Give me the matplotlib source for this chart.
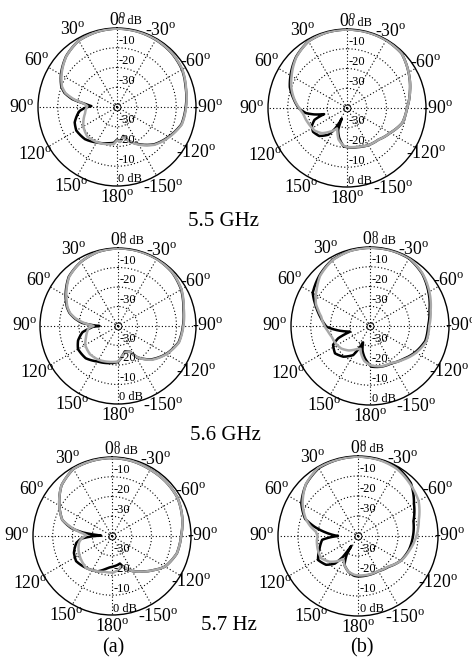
import numpy as np
import matplotlib
matplotlib.use('Agg')
import matplotlib.pyplot as plt
from matplotlib.transforms import offset_copy

plt.rcParams['font.family'] = ['Liberation Serif', 'DejaVu Serif']
plt.rcParams['mathtext.fontset'] = 'custom'
plt.rcParams['mathtext.rm'] = 'Liberation Serif'
plt.rcParams['mathtext.it'] = 'Liberation Serif:italic'

# ---------------- data (angle in degrees, counter-clockwise from top; level in dB) ----------------
# (a) 5.5 GHz
ang1 = [0, 15, 30, 45, 60, 70, 75, 80, 84, 88, 92, 96, 100, 110, 120, 135, 150, 165, 175, 180, 185, 192, 200, 210, 225, 240, 255, 270, 285, 300, 315, 330, 345, 360]
blk1 = [-0.3, -0.6, -1.2, -3.6, -7.2, -10, -12.5, -17, -23.5, -27, -23.5, -21, -19.8, -17.2, -16.2, -17, -19.3, -21, -21.8, -23.5, -22.3, -25, -21.5, -18.3, -13.3, -9.8, -6.2, -5.2, -3.9, -2, -1.1, -0.7, -0.4, -0.3]
gry1 = [-0.3, -0.6, -1.2, -3.7, -7.5, -10.4, -13, -18, -23, -25, -24.5, -24, -23.7, -22, -20.3, -18.8, -19.5, -20.5, -21.2, -23.2, -22.2, -24.5, -21.5, -18, -13, -9.5, -6, -5, -3.8, -1.8, -1, -0.6, -0.4, -0.3]

# (b) 5.5 GHz
ang2 = [0, 15, 30, 45, 60, 70, 80, 90, 97, 101, 105, 110, 117, 125, 135, 145, 150, 154, 158, 165, 175, 180, 195, 210, 225, 240, 255, 270, 285, 300, 315, 330, 345, 360]
blk2 = [-0.3, -0.4, -1.0, -3.5, -7.0, -9.2, -12.5, -15.5, -19, -23, -28, -22.5, -20, -19, -20, -23.5, -28, -34, -28, -24.5, -20.5, -20.2, -19.5, -18.3, -17.4, -14.8, -11, -9.6, -7, -4, -0.9, -0.4, -0.3, -0.3]
gry2 = [-0.3, -0.4, -1.0, -3.7, -7.6, -10, -12.8, -15.8, -17.5, -18, -18.3, -18.8, -19.4, -20, -22, -25.5, -27, -28.5, -27, -23.5, -20.8, -20.3, -19.7, -18.3, -17.4, -14.8, -11, -9.6, -7, -4, -0.9, -0.4, -0.3, -0.3]

# (a) 5.6 GHz
ang3 = [0, 15, 30, 45, 60, 70, 75, 80, 85, 88, 90, 92, 95, 100, 110, 120, 135, 150, 165, 180, 188, 195, 205, 212, 225, 240, 255, 270, 285, 300, 315, 330, 345, 360]
blk3 = [-0.2, -0.6, -2.0, -4.3, -9.0, -12.2, -14.3, -17.5, -21.5, -27, -30.5, -27, -25.3, -21.5, -18.2, -16.3, -16.6, -19, -20.3, -21.6, -24.5, -26.5, -25.5, -21, -15.8, -11.4, -7.8, -6.7, -5.3, -2.6, -0.9, -0.3, -0.2, -0.2]
gry3 = [-0.2, -0.6, -2.0, -4.5, -9.4, -12.5, -14.6, -18, -22.7, -26, -27.5, -26, -24.8, -24, -22.5, -20.6, -19.6, -20, -21, -21.8, -24.5, -26, -25.5, -21, -15.5, -11.2, -7.6, -6.5, -5.1, -2.4, -0.8, -0.3, -0.2, -0.2]

# (b) 5.6 GHz
ang4 = [0, 15, 30, 45, 56, 60, 68, 73, 79, 91, 97, 102, 106, 111, 117, 128, 139, 150, 157, 163, 171, 182, 196, 210, 225, 240, 255, 270, 285, 300, 315, 330, 345, 360]
blk4 = [-0.4, -0.6, -1.5, -3.8, -5.8, -6.5, -10, -12, -14.2, -18, -23, -27, -29.5, -22.8, -19, -17.5, -19.4, -23, -31, -27, -23.5, -19.4, -18.6, -18.2, -16.3, -13.5, -11, -10.6, -8.8, -5.8, -2.6, -0.5, -0.3, -0.4]
gry4 = [-0.4, -0.7, -1.7, -4.2, -7.4, -8.3, -10.5, -12.6, -14.8, -17.2, -18.5, -19.3, -19.9, -20.2, -20.5, -21.5, -23.6, -26.5, -27.5, -25, -22, -20, -18.8, -18.4, -16, -13, -10.4, -10, -8.2, -5.3, -2.4, -0.3, -0.3, -0.4]

# (a) 5.7 GHz
ang5 = [0, 15, 30, 45, 60, 72, 79, 83, 86, 88, 91, 95, 101, 114, 125, 141, 158, 168, 175, 182, 190, 196, 202, 210, 220, 230, 240, 255, 270, 285, 300, 315, 330, 345, 360]
blk5 = [-0.5, -0.6, -0.8, -3.8, -9.2, -13.5, -19, -25, -32, -34.5, -30, -24.3, -21.6, -18.9, -17.8, -19.2, -20.7, -22.8, -24, -24.5, -25, -25.5, -22.5, -19.5, -16.5, -13, -9, -6, -5, -3.2, -1.6, -1.3, -1.2, -0.7, -0.5]
gry5 = [-0.5, -0.6, -0.8, -3.8, -9.2, -13.5, -19.9, -23.5, -26, -27, -26, -24.5, -23, -21.5, -20.5, -19.2, -20.7, -21.5, -21.5, -21.5, -22.5, -24, -23, -19.5, -16.5, -13, -9, -6, -5, -3.2, -1.6, -1.3, -1.2, -0.7, -0.5]

# (b) 5.7 GHz
ang6 = [0, 15, 30, 45, 60, 72, 78, 84, 88, 90, 92, 96, 108, 121, 132, 140, 144, 146, 149, 155, 165, 175, 180, 195, 210, 225, 240, 255, 270, 285, 300, 315, 330, 345, 360]
blk6 = [-0.3, -0.5, -0.8, -3.3, -7.3, -12.2, -17.8, -24, -28, -30, -27, -22, -19.8, -16.7, -18.5, -22, -27, -34, -29, -24, -21.5, -20, -19.8, -19.8, -19.7, -18.3, -15.3, -13.6, -12.5, -11.3, -7.7, -2.6, -0.5, -0.4, -0.3]
gry6 = [-0.3, -0.5, -0.5, -3.2, -8, -12.6, -15.5, -18.8, -19.5, -19.8, -19.7, -19.3, -18.8, -18.5, -20.8, -23.5, -25, -26, -26, -24, -21.5, -20.5, -20.3, -20, -19.8, -18.5, -15.2, -13.2, -10.8, -8.5, -5, -3.2, -1.2, -0.5, -0.3]

angle_ticks = [0, 30, 60, 90, 120, 150, 180, -150, -120, -90, -60, -30]
radial_ticks = [-30, -20, -10]
freq_labels = ["5.5 GHz", "5.6 GHz", "5.7 Hz"]
col_labels = ["(a)", "(b)"]

# ---------------- layout ----------------
W, H = 472, 658
fig = plt.figure(figsize=(W / 100, H / 100), dpi=100)

panels = [
    (ang1, blk1, gry1, 117, 107, 79),
    (ang2, blk2, gry2, 347, 108, 79),
    (ang3, blk3, gry3, 118, 326, 78),
    (ang4, blk4, gry4, 370, 326, 79),
    (ang5, blk5, gry5, 112, 536, 79),
    (ang6, blk6, gry6, 358, 536, 80),
]
label_rad = [1.09, 1.13, 1.17, 1.2, 1.2, 1.16, 1.15, 1.17, 1.16, 1.15, 1.15, 1.12]
GRAY = '#a9a9a9'


def smooth_polar(line, steps=24):
    # let the polar transform draw each segment as a spiral arc
    line.get_path()._interpolation_steps = steps


for ang, blk, gry, cx, cy, R in panels:
    ax = fig.add_axes([(cx - R) / W, (H - cy - R) / H, 2 * R / W, 2 * R / H], projection='polar')
    ax.set_theta_zero_location('N')
    ax.set_theta_direction(1)
    ax.set_ylim(-40, 0)
    ax.set_thetagrids(range(0, 360, 30), labels=[])
    ax.set_rgrids(radial_ticks, labels=[])
    ax.grid(True, color='k', linestyle=(0, (1, 2)), linewidth=0.8)
    ax.spines['polar'].set_linewidth(1.0)
    ax.tick_params(length=0)
    th = np.deg2rad(ang)
    l1, = ax.plot(th, blk, color='k', lw=1.8, zorder=3)
    l2, = ax.plot(th, gry, color=GRAY, lw=1.8, zorder=4)
    smooth_polar(l1)
    smooth_polar(l2)
    ax.plot([0], [-40], marker='o', ms=5, mfc='none', mec='k', mew=0.6, zorder=5, clip_on=False)

    # angle labels
    for a, k in zip(angle_ticks, label_rad):
        txt = f"{a}" + r"$^{\rm o}$"
        ax.text(np.deg2rad(a), (k - 1) * 40, txt, ha='center', va='center', fontsize=12.8, clip_on=False)

    # radial labels (top and bottom)
    tr = offset_copy(ax.transData, fig=fig, x=1.5, y=0.5, units='dots')
    for r in radial_ticks:
        ax.text(0, r, f"{r}", transform=tr, ha='left', va='bottom', fontsize=9, zorder=6)
        ax.text(np.pi, r, f"{r}", transform=tr, ha='left', va='bottom', fontsize=9, zorder=6)
    ax.text(0, 0, "0 dB", transform=tr, ha='left', va='bottom', fontsize=9, clip_on=False, zorder=6)
    ax.text(np.pi, 0, "0 dB", transform=tr, ha='left', va='bottom', fontsize=9, zorder=6)

for lab, (x, y) in zip(freq_labels, [(223, 222), (225, 435), (229, 626)]):
    fig.text(x / W, 1 - y / H, lab, ha='center', va='center', fontsize=15)
for lab, (x, y) in zip(col_labels, [(113, 648), (362, 648)]):
    fig.text(x / W, 1 - y / H, lab, ha='center', va='center', fontsize=14.5)

fig.savefig('out.png', dpi=100)
